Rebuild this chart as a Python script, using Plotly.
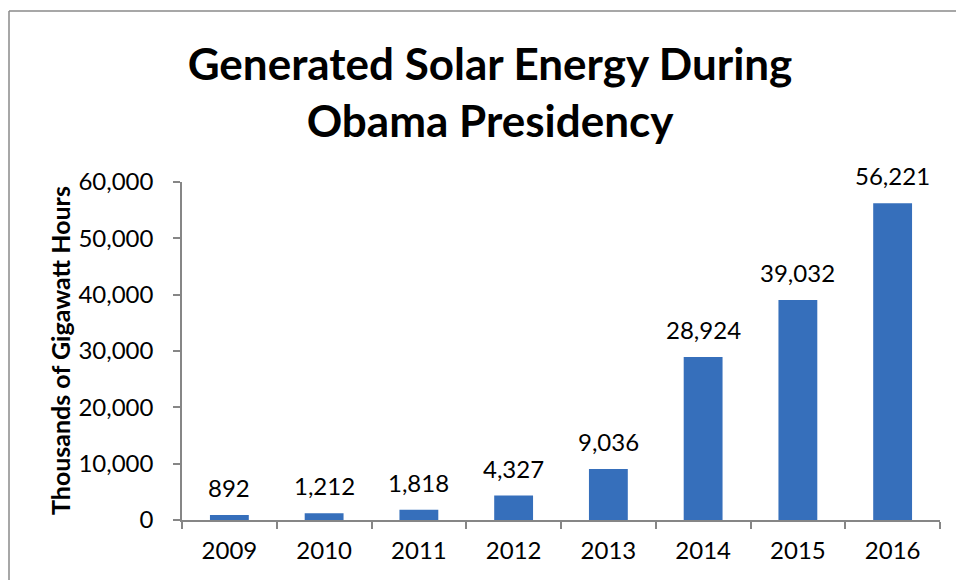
import plotly.graph_objects as go

# Solar generation by year (thousands of gigawatt hours)
years = ["2009", "2010", "2011", "2012", "2013", "2014", "2015", "2016"]
generation = [892, 1212, 1818, 4327, 9036, 28924, 39032, 56221]
y_ticks = [0, 10000, 20000, 30000, 40000, 50000, 60000]

W, H = 956, 580
L, R, T, B = 182, 16, 182, 60
plot_w = W - L - R
plot_h = H - T - B

FONT = "Lato, Carlito, Calibri, sans-serif"
AXIS_GREY = "#868686"

fig = go.Figure()
fig.add_trace(go.Bar(
    x=years,
    y=generation,
    marker=dict(color="#366fbb", line=dict(width=0)),
    width=0.41,
    hoverinfo="x+y",
))

# value labels above each bar (category index on the x axis)
for i, v in enumerate(generation):
    fig.add_annotation(
        x=i, y=v, text=f"{v:,}", showarrow=False,
        xref="x", yref="y", yanchor="bottom", yshift=11,
        font=dict(family=FONT, size=24, color="#000000"),
    )

# vertical axis title
fig.add_annotation(
    x=(60 - L) / plot_w, y=0.5, xref="paper", yref="paper",
    text="<b>Thousands of Gigawatt Hours</b>", textangle=-90,
    showarrow=False, xanchor="center", yanchor="middle",
    font=dict(family=FONT, size=25, color="#000000"),
)

# chart-area frame (left and top edges)
px = lambda x: (x - L) / plot_w
py = lambda y: (H - B - y) / plot_h
frame = dict(color="#8a8a8a", width=1.5)
fig.add_shape(type="line", xref="paper", yref="paper",
              x0=px(9), x1=px(9), y0=py(11), y1=py(600), line=frame)
fig.add_shape(type="line", xref="paper", yref="paper",
              x0=px(9), x1=px(990), y0=py(11), y1=py(11), line=frame)

fig.update_layout(
    width=W, height=H,
    margin=dict(l=L, r=R, t=T, b=B, pad=0),
    paper_bgcolor="white", plot_bgcolor="white",
    showlegend=False,
    title=dict(
        text="<b>Generated Solar Energy During<br>Obama Presidency</b>",
        x=490 / W, xref="container", xanchor="center",
        y=1 - 80 / H, yref="container", yanchor="middle",
        font=dict(family=FONT, size=44, color="#000000"),
    ),
    xaxis=dict(
        type="category", tickson="boundaries",
        range=[-0.5, len(years) - 0.5],
        showline=True, linecolor=AXIS_GREY, linewidth=1.5,
        ticks="outside", ticklen=7, tickcolor=AXIS_GREY, tickwidth=1.5,
        tickfont=dict(family=FONT, size=24, color="#000000"),
        ticklabelstandoff=8,
        showgrid=False, zeroline=False,
    ),
    yaxis=dict(
        range=[0, 60000], tickvals=y_ticks, tickformat=",",
        showline=True, linecolor=AXIS_GREY, linewidth=1.5,
        ticks="outside", ticklen=7, tickcolor=AXIS_GREY, tickwidth=1.5,
        tickfont=dict(family=FONT, size=24, color="#000000"),
        ticklabelstandoff=15,
        showgrid=False, zeroline=False,
    ),
)

fig.write_html("out.html")
